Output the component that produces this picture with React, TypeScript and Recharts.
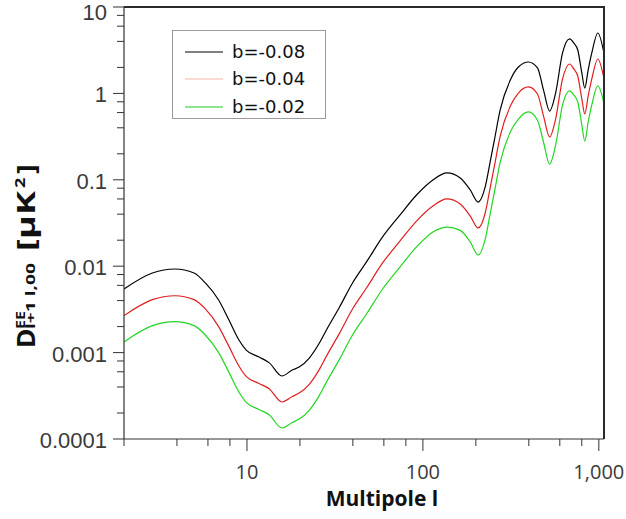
import React from 'react';
import { LineChart, Line, XAxis, YAxis, Legend } from 'recharts';

// Multipole l
const L = [2, 2.9, 3.9, 5, 5.8, 6.9, 7.9, 9, 9.9, 11.7, 13.4, 15.8, 18.1, 19.8, 22.6, 25.8, 28.3, 33.6, 39.8, 47.8, 59, 74, 92, 114, 137, 163, 186, 206, 226, 241, 255, 275, 314, 349, 398, 448, 485, 525, 568, 622, 682, 720, 759, 800, 832, 870, 912, 987, 1069];

// b = -0.08
const B08 = [0.00545, 0.00834, 0.00928, 0.00834, 0.0064, 0.00406, 0.00238, 0.0014, 0.00107, 0.00089, 0.00076, 0.000536, 0.00063, 0.00068, 0.000865, 0.00129, 0.00183, 0.00337, 0.0064, 0.0112, 0.0218, 0.039, 0.0667, 0.0995, 0.12, 0.105, 0.0762, 0.0553, 0.0826, 0.16, 0.29, 0.643, 1.43, 2.02, 2.31, 1.97, 1.09, 0.625, 1.01, 2.94, 4.27, 3.84, 3.18, 1.74, 1.15, 1.87, 2.94, 5.0, 2.94];

// b = -0.04
const B04 = [0.00268, 0.0041, 0.00455, 0.0041, 0.0032, 0.002, 0.00118, 0.0007, 0.00053, 0.00044, 0.00038, 0.000268, 0.00031, 0.00034, 0.00043, 0.00064, 0.00091, 0.00168, 0.0032, 0.0056, 0.0109, 0.0195, 0.0333, 0.0497, 0.06, 0.0525, 0.038, 0.0277, 0.0413, 0.08, 0.145, 0.32, 0.715, 1.01, 1.19, 0.985, 0.545, 0.313, 0.505, 1.47, 2.19, 1.92, 1.59, 0.87, 0.578, 0.935, 1.47, 2.5, 1.5];

// b = -0.02
const B02 = [0.00133, 0.00205, 0.00228, 0.00205, 0.0016, 0.001, 0.00059, 0.00035, 0.000265, 0.00022, 0.00019, 0.000134, 0.000155, 0.00017, 0.000215, 0.00032, 0.000455, 0.00084, 0.0016, 0.0028, 0.00545, 0.00975, 0.0167, 0.0249, 0.0284, 0.026, 0.019, 0.0135, 0.0206, 0.04, 0.0725, 0.16, 0.358, 0.505, 0.61, 0.49, 0.272, 0.152, 0.252, 0.735, 1.07, 0.96, 0.795, 0.435, 0.281, 0.467, 0.735, 1.22, 0.774];

const X_TICKS = [2, 4, 6, 8, 10, 20, 40, 60, 80, 100, 200, 400, 600, 800, 1000];
const X_MAJOR = [10, 100, 1000];
const X_LABELS = ['10', '100', '1,000'];

const Y_TICKS = [0.0001, 0.0002, 0.0004, 0.0006, 0.0008, 0.001, 0.002, 0.004, 0.006, 0.008, 0.01, 0.02, 0.04, 0.06, 0.08, 0.1, 0.2, 0.4, 0.6, 0.8, 1, 2, 4, 6, 8, 10];
const Y_MAJOR = [0.0001, 0.001, 0.01, 0.1, 1, 10];
const Y_LABELS = ['0.0001', '0.001', '0.01', '0.1', '1', '10'];

const X_MIN = 2;
const X_MAX = 1070;
const Y_MIN = 0.0001;
const Y_MAX = 10;

const SERIES = [
  { key: 'b08', name: 'b=-0.08', color: '#000000', legendColor: '#000000' },
  { key: 'b04', name: 'b=-0.04', color: '#e01e1e', legendColor: '#f5b8a6' },
  { key: 'b02', name: 'b=-0.02', color: '#22d622', legendColor: '#22cc22' },
];

const rows = L.map((l, i) => ({ l, b08: B08[i], b04: B04[i], b02: B02[i] }));

const AXIS = '#333333';
const CHART_W = 626;
const CHART_H = 519;
const M_TOP = 7;
const M_RIGHT = 22;
const M_LEFT = 64;
const Y_AXIS_W = 60;
const X_AXIS_H = 80;
const PLOT_H = CHART_H - M_TOP - X_AXIS_H;
const PLOT_W = CHART_W - M_LEFT - Y_AXIS_W - M_RIGHT;

const XTick = (props: any) => {
  const { x, y, payload } = props;
  const idx = X_MAJOR.indexOf(payload.value);
  const major = idx >= 0;
  return (
    <g>
      <line x1={x} x2={x} y1={y} y2={y + (major ? 12 : 7)} stroke={AXIS} strokeWidth={1} />
      {major && (
        <text x={x} y={y + 40} textAnchor="middle" fontSize={20} fontFamily="'Open Sans', sans-serif" fill="#3a3a3a">
          {X_LABELS[idx]}
        </text>
      )}
    </g>
  );
};

const YTick = (props: any) => {
  const { x, y, payload } = props;
  const idx = Y_MAJOR.indexOf(payload.value);
  const major = idx >= 0;
  const ty = Math.max(y + 1, 12);
  return (
    <g>
      <line x1={x - (major ? 11 : 7)} x2={x} y1={y} y2={y} stroke={AXIS} strokeWidth={1} />
      {major && (
        <text x={x - 17} y={ty} dy="0.36em" textAnchor="end" fontSize={22} fontFamily="'Liberation Sans', Arial, sans-serif" fill="#3a3a3a">
          {Y_LABELS[idx]}
        </text>
      )}
    </g>
  );
};

const XLabel = (props: any) => {
  const vb = props.viewBox || { x: 124, y: 439, width: 480, height: 80 };
  return (
    <text x={vb.x + vb.width / 2 + 18} y={vb.y + 67} textAnchor="middle" fontSize={21} fontWeight="bold" fontFamily="'Open Sans', sans-serif" fill="#111">
      Multipole l
    </text>
  );
};

const YLabel = (props: any) => {
  const vb = props.viewBox || { x: 64, y: 7, width: 60, height: 432 };
  const cx = vb.x - 29;
  const cy = vb.y + 243;
  const ff = "'Open Sans', sans-serif";
  const adj = 'spacingAndGlyphs';
  return (
    <g transform={`translate(${cx},${cy}) rotate(-90)`} fill="#111" fontFamily={ff} fontWeight="bold">
      <text transform="translate(-98,0) scale(1.05,1)" fontSize={25}>D</text>
      <text x={-79} y={-10} fontSize={12} textLength={18} lengthAdjust={adj}>EE</text>
      <text x={-79} y={0} fontSize={13} textLength={66} lengthAdjust={adj}>l+1 l,00</text>
      <text transform="translate(-1,0) scale(1.45,1)" fontSize={25}>[μK</text>
      <text transform="translate(62,-10) scale(1.2,1)" fontSize={15}>2</text>
      <text transform="translate(76,0) scale(1.2,1)" fontSize={25}>]</text>
    </g>
  );
};

const LegendBox = () => (
  <svg width={154} height={89} style={{ display: 'block' }}>
    <rect x={0.5} y={0.5} width={153} height={88} fill="#fff" stroke="#9a9a9a" strokeWidth={1} />
    {SERIES.map((s, i) => {
      const yy = [22, 49, 77][i];
      return (
        <g key={s.key}>
          <line x1={13} x2={51} y1={yy} y2={yy} stroke={s.legendColor} strokeWidth={1.2} />
          <text x={60} y={yy} dy="0.35em" fontSize={18} fontFamily="'DejaVu Sans', sans-serif" fill="#111">
            {s.name}
          </text>
        </g>
      );
    })}
  </svg>
);

export default function App() {
  return (
    <div style={{ position: 'absolute', left: 0, top: 0, width: CHART_W, height: CHART_H, background: '#fff' }}>
      <LineChart width={CHART_W} height={CHART_H} data={rows} margin={{ top: M_TOP, right: M_RIGHT, left: M_LEFT, bottom: 0 }}>
        <XAxis
          dataKey="l"
          type="number"
          scale="log"
          domain={[X_MIN, X_MAX]}
          allowDataOverflow
          ticks={X_TICKS}
          interval={0}
          tick={<XTick />}
          tickLine={false}
          tickSize={0}
          tickMargin={0}
          height={X_AXIS_H}
          axisLine={{ stroke: AXIS, strokeWidth: 1.2 }}
          label={<XLabel />}
        />
        <YAxis
          type="number"
          scale="log"
          domain={[Y_MIN, Y_MAX]}
          allowDataOverflow
          ticks={Y_TICKS}
          interval={0}
          tick={<YTick />}
          tickLine={false}
          tickSize={0}
          tickMargin={0}
          width={Y_AXIS_W}
          axisLine={{ stroke: AXIS, strokeWidth: 1.2 }}
          label={<YLabel />}
        />
        <Legend
          layout="vertical"
          align="center"
          verticalAlign="middle"
          content={<LegendBox />}
          wrapperStyle={{ position: 'absolute', left: 172, top: 30, width: 154, height: 89 }}
        />
        {SERIES.map((s) => (
          <Line
            key={s.key}
            dataKey={s.key}
            name={s.name}
            type="monotone"
            stroke={s.color}
            strokeWidth={1.2}
            dot={false}
            activeDot={false}
            isAnimationActive={false}
          />
        ))}
      </LineChart>
      {/* plot frame: top and right edges */}
      <div
        style={{
          position: 'absolute',
          left: M_LEFT + Y_AXIS_W,
          top: M_TOP - 1,
          width: PLOT_W + 1,
          height: PLOT_H + 1,
          borderTop: '2px solid #2a2a2a',
          borderRight: '2px solid #2a2a2a',
          boxSizing: 'border-box',
          pointerEvents: 'none',
          zIndex: 10,
        }}
      />
    </div>
  );
}
